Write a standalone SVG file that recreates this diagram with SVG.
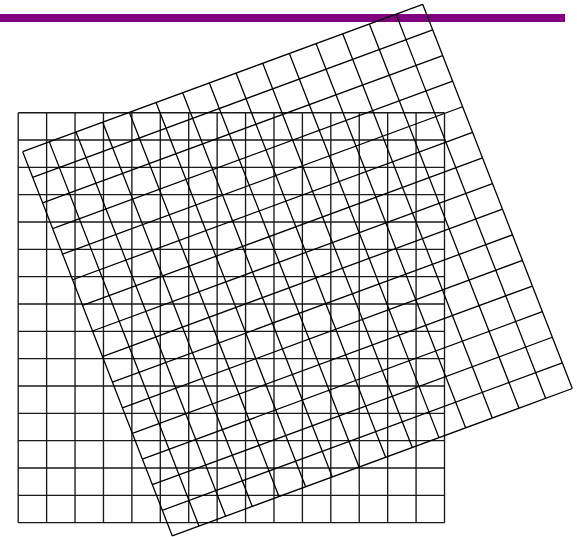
<svg xmlns="http://www.w3.org/2000/svg" width="577" height="537" viewBox="0 0 577 537">
<defs>
<style>
.grid{fill:none;vector-effect:non-scaling-stroke}
.g1{stroke:#1a1a1a;stroke-width:1.35}
.g2{stroke:#000;stroke-width:1.3}
</style>
</defs>
<rect width="577" height="537" fill="#fff"/>
<rect id="bar" x="0" y="14" width="565" height="8" fill="#800080"/>
<g id="grid-straight">
<path class="grid g1" transform="matrix(28.42,0,0,27.33,18.2,112.7)" d="M0,0V15M1,0V15M2,0V15M3,0V15M4,0V15M5,0V15M6,0V15M7,0V15M8,0V15M9,0V15M10,0V15M11,0V15M12,0V15M13,0V15M14,0V15M15,0V15M0,0H15M0,1H15M0,2H15M0,3H15M0,4H15M0,5H15M0,6H15M0,7H15M0,8H15M0,9H15M0,10H15M0,11H15M0,12H15M0,13H15M0,14H15M0,15H15"/>
</g>
<g id="grid-rotated">
<path class="grid g2" transform="matrix(26.667,-9.827,9.973,25.613,22.7,151.7)" d="M0,0V15M1,0V15M2,0V15M3,0V15M4,0V15M5,0V15M6,0V15M7,0V15M8,0V15M9,0V15M10,0V15M11,0V15M12,0V15M13,0V15M14,0V15M15,0V15M0,0H15M0,1H15M0,2H15M0,3H15M0,4H15M0,5H15M0,6H15M0,7H15M0,8H15M0,9H15M0,10H15M0,11H15M0,12H15M0,13H15M0,14H15M0,15H15"/>
</g>
</svg>
